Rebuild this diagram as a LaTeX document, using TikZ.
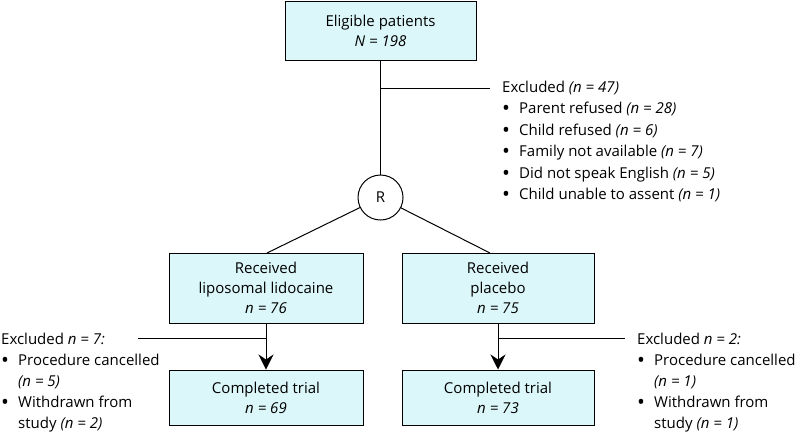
\documentclass[tikz,border=0pt]{standalone}
\usepackage{fontspec}
\setmainfont{Open Sans}
\usetikzlibrary{arrows.meta}
\definecolor{boxfill}{RGB}{220,247,249}
\begin{document}
\begin{tikzpicture}[x=1pt,y=-1pt,
  txt/.style={font=\fontsize{15}{20}\selectfont},
  box/.style={txt, draw=black, fill=boxfill, line width=1pt, align=center, inner sep=0pt},
  ln/.style={line width=1pt, draw=black},
  arr/.style={ln, -{Stealth[length=15pt,width=15pt,inset=5pt]}},
  lst/.style={font=\fontsize{15}{21.5}\selectfont, align=left, inner sep=0pt, anchor=north west}
]
\path[use as bounding box] (0,0) rectangle (800,432);
\newcommand{\bul}{\makebox[17pt][l]{\raisebox{-2.2pt}{\scalebox{1.4}{\textbullet}}}}
\newcommand{\hang}{\hspace*{17pt}}

\node[box, minimum width=191pt, minimum height=59pt] (top) at (380.5,30.5) {Eligible patients\\ \textit{N = 198}};
\node[circle, draw=black, line width=1pt, minimum size=45pt, inner sep=0pt, txt] (R) at (380.5,197.5) {R};

\node[box, minimum width=194pt, minimum height=70pt] (L1) at (266,288) {Received\\ liposomal lidocaine\\ \textit{n = 76}};
\node[box, minimum width=192pt, minimum height=70pt] (R1) at (498,288) {Received\\ placebo\\ \textit{n = 75}};
\node[box, minimum width=194pt, minimum height=55pt] (L2) at (266,397.5) {Completed trial\\ \textit{n = 69}};
\node[box, minimum width=192pt, minimum height=55pt] (R2) at (498,397.5) {Completed trial\\ \textit{n = 73}};

\coordinate (j1) at (380.5,88);
\coordinate (e1) at (490,88);
\coordinate (la) at (267,253);
\coordinate (ra) at (490,253);
\coordinate (j2) at (266,338);
\coordinate (e2) at (138,338);
\coordinate (j3) at (498,338);
\coordinate (e3) at (625,338);

\draw[ln] (top) -- (R);
\draw[ln] (j1) -- (e1);
\draw[ln] (R) -- (la);
\draw[ln] (R) -- (ra);
\draw[arr] (L1) -- (L2);
\draw[arr] (R1) -- (R2);
\draw[ln] (e2) -- (j2);
\draw[ln] (j3) -- (e3);

\node[lst] (ex1) at (502,80.5) {Excluded \textit{(n = 47)}\\
\bul Parent refused \textit{(n = 28)}\\
\bul Child refused \textit{(n = 6)}\\
\bul Family not available \textit{(n = 7)}\\
\bul Did not speak English \textit{(n = 5)}\\
\bul Child unable to assent \textit{(n = 1)}};

\node[lst, font=\fontsize{15}{21}\selectfont] (ex2) at (1,333) {Excluded \textit{n = 7:}\\
\bul Procedure cancelled\\
\hang\textit{(n = 5)}\\
\bul Withdrawn from\\
\hang study \textit{(n = 2)}};

\node[lst, font=\fontsize{15}{21}\selectfont] (ex3) at (637,333) {Excluded \textit{n = 2:}\\
\bul Procedure cancelled\\
\hang\textit{(n = 1)}\\
\bul Withdrawn from\\
\hang study \textit{(n = 1)}};
\end{tikzpicture}
\end{document}
